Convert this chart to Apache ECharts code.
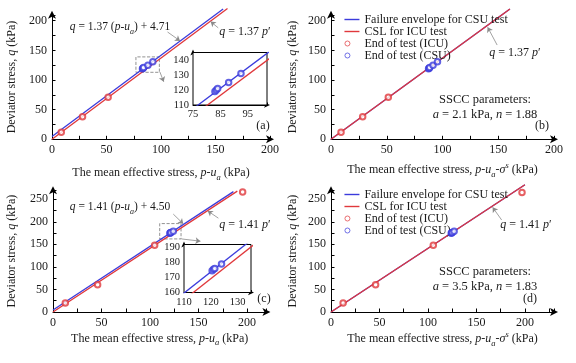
<!DOCTYPE html>
<html><head><meta charset="utf-8">
<script src="https://cdn.jsdelivr.net/npm/echarts@6/dist/echarts.min.js"></script>
<style>html,body{margin:0;padding:0;background:#fff}#c{width:576px;height:363px}</style>
</head><body><div id="c"></div>
<script>
// ---------- data ----------
// panel (a): p-ua axis
const aICU_p = [8.5, 28, 51.5, 157];
const aICU_q = [12, 38, 71, 212];
const aCSU_p = [83, 83.5, 84, 88, 92.5];
const aCSU_q = [119, 120, 121, 125, 131];
// panel (b): p-ua-σs axis
const bICU_p = [9, 28.4, 51.4, 157.6];
const bICU_q = [11.8, 38, 70.8, 212.5];
const bCSU_p = [87.5, 88, 88.5, 91.5, 95.5];
const bCSU_q = [119, 120, 121, 125, 131];
// panel (c)
const cICU_p = [12.7, 46, 104.8, 195.5];
const cICU_q = [20, 60.5, 148, 266];
const cCSU_p = [120.5, 121, 121.5, 124];
const cCSU_q = [174.5, 175.5, 176, 179];
// panel (d)
const dICU_p = [12.5, 46, 105.5, 197];
const dICU_q = [20, 60.5, 148, 265];
const dCSU_p = [124, 124.5, 125, 127];
const dCSU_q = [174.5, 175.5, 176, 179];
// fitted lines: [slope, intercept]
const aBlueFit = [1.37, 4.71], aRedFit = [1.37, 0];
const cBlueFit = [1.41, 4.50], cRedFit = [1.41, 0];
// x extent of the drawn lines in each panel
const aBlueEnd = 157, aRedEnd = 161, bEnd = 160.5;
const cBlueEnd = 186, cRedEnd = 190, dEnd = 200;
const insetARange = [70, 110], insetCRange = [105, 140];

const NAMES = ['Failure envelope for CSU test', 'CSL for ICU test', 'End of test (ICU)', 'End of test (CSU)'];

// ---------- helpers ----------
const F = 'Liberation Serif', C = '#1a1a1a';
const BLUE = '#3b3bdc', RED = '#e0383c';
const zip = (xs, ys) => xs.map((x, i) => [x, ys[i]]);
const fitLine = (fit, x0, x1) => [[x0, fit[0] * x0 + fit[1]], [x1, fit[0] * x1 + fit[1]]];

const RICH = {
  n: {fontFamily: F, fontSize: 12, color: C, lineHeight: 18},
  i: {fontFamily: F, fontSize: 12, color: C, fontStyle: 'italic', lineHeight: 18},
  s: {fontFamily: F, fontSize: 8.5, color: C, fontStyle: 'italic', lineHeight: 9, verticalAlign: 'bottom', padding: [8, 0, 0, 0]},
  u: {fontFamily: F, fontSize: 8.5, color: C, fontStyle: 'italic', lineHeight: 9, verticalAlign: 'top', padding: [0, 0, 8, 0]}
};
const nameStyle = {fontFamily: F, fontSize: 12, color: C, rich: RICH};
const xNameA = '{n|The mean effective stress, }{i|p}{n|-}{i|u}{s|a}{n| (kPa)}';
const xNameB = '{n|The mean effective stress, }{i|p}{n|-}{i|u}{s|a}{n|-}{i|σ}{u|s}{n| (kPa)}';
const yName = '{n|Deviator stress, }{i|q}{n| (kPa)}';

function axisCommon(grid, min, max, interval, fmt, fs) {
  return {
    type: 'value', gridIndex: grid, min, max, interval,
    axisLine: {show: true, onZero: false, lineStyle: {color: '#000', width: 1}, symbol: ['none', 'arrow'], symbolSize: [6, 8], symbolOffset: [0, 4]},
    axisTick: {show: true, inside: true, length: 3.5, lineStyle: {color: '#000', width: 1}},
    axisLabel: {formatter: fmt, fontFamily: F, fontSize: fs, color: C, margin: 5, showMaxLabel: true},
    splitLine: {show: false}
  };
}
const main50 = v => (Math.round(v) % 50 === 0 ? String(v) : '');
function mainX(grid, max, name, gap) {
  return Object.assign(axisCommon(grid, 0, max, 25, main50, 12), {name, nameLocation: 'middle', nameGap: gap, nameTextStyle: nameStyle});
}
function mainY(grid, max, gap) {
  return Object.assign(axisCommon(grid, 0, max, 25, main50, 12), {name: yName, nameLocation: 'middle', nameGap: gap, nameRotate: 90, nameTextStyle: nameStyle});
}
function insetAxis(grid, min, max) {
  const a = axisCommon(grid, min, max, 5, v => ((Math.round(v) - min) % 10 === 0 ? String(v) : ''), 10.5);
  a.axisLabel.margin = 4;
  a.axisTick.length = 2.5;
  a.axisLine.symbolSize = [4, 6];
  a.axisLine.symbolOffset = [0, 3];
  return a;
}

const lead = {symbol: ['none', 'arrow'], symbolSize: 5, silent: true, label: {show: false},
  lineStyle: {type: 'solid', color: '#8a8a8a', width: 0.8}, animation: false};
const rectStyle = {color: 'rgba(0,0,0,0)', borderColor: '#777', borderWidth: 0.8, borderType: 'dashed'};

function lineSeries(name, color, grid, data, z) {
  return {name, type: 'line', xAxisIndex: grid, yAxisIndex: grid, data, symbol: 'none', clip: grid >= 4,
    lineStyle: {color, width: 1.3}, itemStyle: {color}, z: z || (grid >= 4 ? 6 : 2), animation: false, silent: true};
}
function scatter(name, color, grid, data, extra) {
  return Object.assign({name, type: 'scatter', xAxisIndex: grid, yAxisIndex: grid, data,
    symbol: 'emptyCircle', symbolSize: 5.5, itemStyle: {color, borderColor: color, borderWidth: 0.9},
    z: grid >= 4 ? 7 : 4, animation: false, silent: true}, extra || {});
}

const series = [
  // (a)
  lineSeries(NAMES[0], BLUE, 0, fitLine(aBlueFit, 0, aBlueEnd)),
  lineSeries(NAMES[1], RED, 0, fitLine(aRedFit, 0, aRedEnd)),
  scatter(NAMES[2], RED, 0, zip(aICU_p, aICU_q), {
    markLine: Object.assign({}, lead, {data: [
      [{coord: [106, 181]}, {coord: [117.5, 166]}],
      [{coord: [152.5, 188]}, {coord: [145.5, 198.5]}],
      [{coord: [99, 113.5]}, {coord: [102.5, 97]}]
    ]}),
    markArea: {silent: true, itemStyle: rectStyle, data: [[{coord: [77, 113]}, {coord: [98.5, 139]}]]}
  }),
  scatter(NAMES[3], BLUE, 0, zip(aCSU_p, aCSU_q)),
  // (b)
  lineSeries(NAMES[0], BLUE, 1, fitLine(aRedFit, 0, bEnd), 1),
  lineSeries(NAMES[1], RED, 1, fitLine(aRedFit, 0, bEnd)),
  scatter(NAMES[2], RED, 1, zip(bICU_p, bICU_q), {
    markLine: Object.assign({}, lead, {data: [[{coord: [149, 159]}, {coord: [140.5, 189]}]]})
  }),
  scatter(NAMES[3], BLUE, 1, zip(bCSU_p, bCSU_q)),
  // (c)
  lineSeries(NAMES[0], BLUE, 2, fitLine(cBlueFit, 0, cBlueEnd)),
  lineSeries(NAMES[1], RED, 2, fitLine(cRedFit, 0, cRedEnd)),
  scatter(NAMES[2], RED, 2, zip(cICU_p, cICU_q), {
    markLine: Object.assign({}, lead, {data: [
      [{coord: [124, 217]}, {coord: [134.3, 195.5]}],
      [{coord: [170.5, 208]}, {coord: [159.5, 224]}],
      [{coord: [132.3, 162]}, {coord: [152, 157]}]
    ]}),
    markArea: {silent: true, itemStyle: rectStyle, data: [[{coord: [110, 162]}, {coord: [132, 196]}]]}
  }),
  scatter(NAMES[3], BLUE, 2, zip(cCSU_p, cCSU_q)),
  // (d)
  lineSeries(NAMES[0], BLUE, 3, fitLine(cRedFit, 0, dEnd), 1),
  lineSeries(NAMES[1], RED, 3, fitLine(cRedFit, 0, dEnd)),
  scatter(NAMES[2], RED, 3, zip(dICU_p, dICU_q), {
    markLine: Object.assign({}, lead, {data: [[{coord: [176, 204]}, {coord: [166.7, 232]}]]})
  }),
  scatter(NAMES[3], BLUE, 3, zip(dCSU_p, dCSU_q)),
  // inset (a)
  lineSeries(NAMES[0], BLUE, 4, fitLine(aBlueFit, insetARange[0], insetARange[1])),
  lineSeries(NAMES[1], RED, 4, fitLine(aRedFit, insetARange[0], insetARange[1])),
  scatter(NAMES[3], BLUE, 4, zip(aCSU_p, aCSU_q)),
  // inset (c)
  lineSeries(NAMES[0], BLUE, 5, fitLine(cBlueFit, insetCRange[0], insetCRange[1])),
  lineSeries(NAMES[1], RED, 5, fitLine(cRedFit, insetCRange[0], insetCRange[1])),
  scatter(NAMES[3], BLUE, 5, zip(cCSU_p, cCSU_q))
];

function txt(x, y, text, size, align) {
  const rich = {
    n: {fontFamily: F, fontSize: size, fill: C, lineHeight: 18},
    i: {fontFamily: F, fontSize: size, fill: C, fontStyle: 'italic', lineHeight: 18},
    s: {fontFamily: F, fontSize: size - 3.5, fill: C, fontStyle: 'italic', lineHeight: 9, verticalAlign: 'bottom', padding: [8, 0, 0, 0]}
  };
  return {type: 'text', x, y, silent: true, style: {text, rich, fontFamily: F, fontSize: size, fill: C, align: align || 'center', verticalAlign: 'middle'}};
}

const lineIcon = 'path://M0,0M15,7M0,2.8h15v1.4h-15z';
const circleIcon = 'path://M0,0M15,7M5.5,3.5a2.5,2.5 0 1,1 -5,0a2.5,2.5 0 1,1 5,0z';
const legendData = [
  {name: NAMES[0], icon: lineIcon, itemStyle: {color: BLUE, borderWidth: 0}},
  {name: NAMES[1], icon: lineIcon, itemStyle: {color: RED, borderWidth: 0}},
  {name: NAMES[2], icon: circleIcon, itemStyle: {color: 'rgba(0,0,0,0)', borderColor: RED, borderWidth: 0.9}},
  {name: NAMES[3], icon: circleIcon, itemStyle: {color: 'rgba(0,0,0,0)', borderColor: BLUE, borderWidth: 0.9}}
];
const legendCommon = {orient: 'vertical', left: 339, itemWidth: 15, itemHeight: 7, itemGap: 0, selectedMode: false,
  textStyle: {fontFamily: F, fontSize: 12, color: C, lineHeight: 11.3}, data: legendData};

const option = {
  animation: false,
  backgroundColor: '#fff',
  grid: [
    {left: 52, top: 14.8, width: 218, height: 124.5},
    {left: 331, top: 14.8, width: 223, height: 124.5},
    {left: 53, top: 190.2, width: 213.4, height: 121.8},
    {left: 331, top: 190.2, width: 223, height: 121.8},
    {left: 193, top: 52.5, width: 74, height: 52.5, show: true, backgroundColor: '#fff', borderColor: '#000', borderWidth: 1, z: 3},
    {left: 184, top: 244.5, width: 67, height: 48, show: true, backgroundColor: '#fff', borderColor: '#000', borderWidth: 1, z: 3}
  ],
  xAxis: [
    mainX(0, 200, xNameA, 25),
    mainX(1, 200, xNameB, 22),
    mainX(2, 220, xNameA, 17.5),
    mainX(3, 230, xNameB, 17.5),
    insetAxis(4, 75, 102),
    insetAxis(5, 110, 135)
  ],
  yAxis: [
    mainY(0, 210, 31),
    mainY(1, 210, 29),
    mainY(2, 270, 32),
    mainY(3, 270, 29),
    insetAxis(4, 110, 145),
    insetAxis(5, 160, 192)
  ],
  legend: [
    Object.assign({}, legendCommon, {top: 8.5}),
    Object.assign({}, legendCommon, {top: 183.5})
  ],
  series,
  graphic: [
    txt(120, 27, '{i|q}{n| = 1.37 (}{i|p}{n|-}{i|u}{s|a}{n|) + 4.71}', 11.5),
    txt(245, 32, '{i|q}{n| = 1.37 }{i|p}{n|′}', 12),
    txt(263, 126, '{n|(a)}', 12),
    txt(515, 53, '{i|q}{n| = 1.37 }{i|p}{n|′}', 12),
    txt(485, 100, '{n|SSCC parameters:}', 12.5),
    txt(485, 115, '{i|a}{n| = 2.1 kPa, }{i|n}{n| = 1.88}', 12.5),
    txt(542, 126, '{n|(b)}', 12),
    txt(120, 207, '{i|q}{n| = 1.41 (}{i|p}{n|-}{i|u}{s|a}{n|) + 4.50}', 11.5),
    txt(245, 225, '{i|q}{n| = 1.41 }{i|p}{n|′}', 12),
    txt(264, 299, '{n|(c)}', 12),
    txt(526, 225, '{i|q}{n| = 1.41 }{i|p}{n|′}', 12),
    txt(485, 272, '{n|SSCC parameters:}', 12.5),
    txt(485, 287, '{i|a}{n| = 3.5 kPa, }{i|n}{n| = 1.83}', 12.5),
    txt(530, 299, '{n|(d)}', 12)
  ]
};
const chart = echarts.init(document.getElementById('c'), null, {renderer: 'canvas'});
chart.setOption(option);
</script></body></html>
